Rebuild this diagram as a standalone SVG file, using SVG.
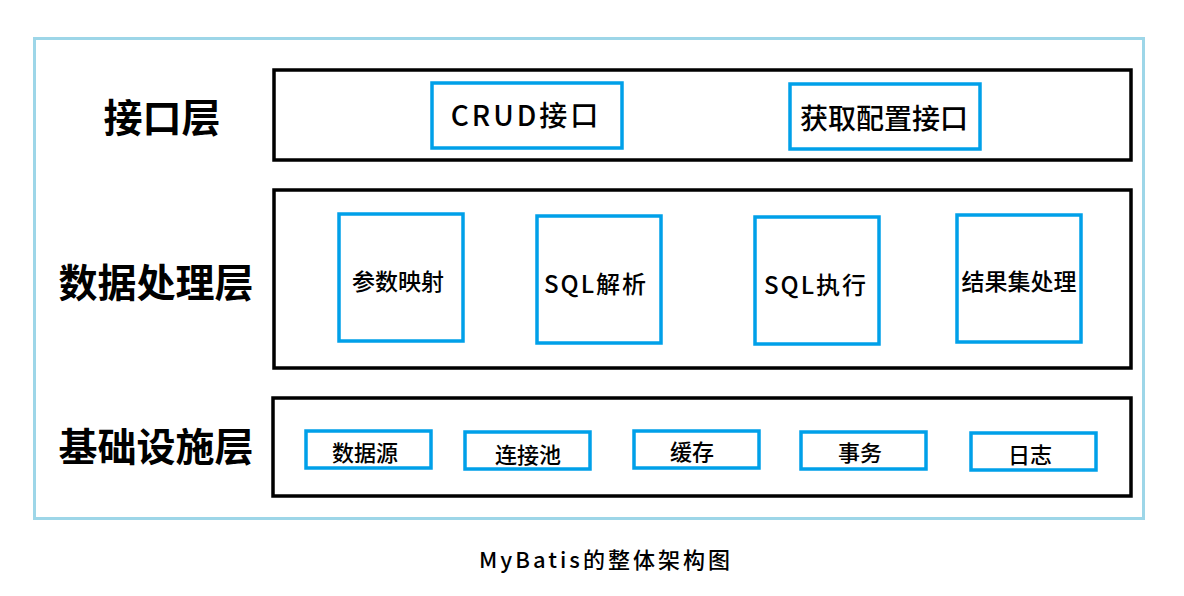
<svg xmlns="http://www.w3.org/2000/svg" width="1184" height="596" viewBox="0 0 1184 596">
<style>
text{font-family:"Noto Sans CJK SC","Liberation Sans",sans-serif;fill:#000;text-anchor:middle;dominant-baseline:central;font-weight:500}
.outer{fill:#fff;stroke:#9dd6e8;stroke-width:3}
.layer{fill:#fff;stroke:#000;stroke-width:3.5}
.node{fill:#fff;stroke:#00a0e9;stroke-width:3.5}
.lbl{font-size:39px;font-weight:bold}
.n28{font-size:28px}
.sql{font-size:24px;letter-spacing:2px}
.n24{font-size:23px}
.n22{font-size:22px}
.cap{font-size:22px;letter-spacing:3px}
</style>
<rect width="1184" height="596" fill="#fff"/>
<rect class="outer" x="34.5" y="38.5" width="1109" height="480"/>
<g id="layer-interface">
<rect class="layer" x="274" y="70" width="857" height="90"/>
<text class="lbl" x="162" y="115">接口层</text>
</g>
<g id="layer-data">
<rect class="layer" x="274" y="190" width="857" height="178"/>
<text class="lbl" x="156" y="280">数据处理层</text>
</g>
<g id="layer-base">
<rect class="layer" x="273" y="398" width="858" height="98"/>
<text class="lbl" x="156" y="444">基础设施层</text>
</g>
<g id="n-crud"><rect class="node" x="432" y="83" width="190" height="65"/><text class="n28" x="526" y="114" style="letter-spacing:3px">CRUD接口</text></g>
<g id="n-config"><rect class="node" x="790" y="84" width="190" height="65"/><text class="n28" x="884" y="117">获取配置接口</text></g>
<g id="n-param"><rect class="node" x="339" y="214" width="124" height="127"/><text class="n24" x="398" y="280">参数映射</text></g>
<g id="n-sqlparse"><rect class="node" x="537" y="216" width="124" height="127"/><text class="sql" x="596" y="282">SQL解析</text></g>
<g id="n-sqlexec"><rect class="node" x="755" y="217" width="124" height="127"/><text class="sql" x="816" y="283">SQL执行</text></g>
<g id="n-result"><rect class="node" x="957" y="215" width="124" height="127"/><text class="n24" x="1019" y="280">结果集处理</text></g>
<g id="n-ds"><rect class="node" x="306" y="431" width="125" height="37"/><text class="n22" x="365" y="451">数据源</text></g>
<g id="n-pool"><rect class="node" x="465" y="432" width="125" height="37"/><text class="n22" x="528" y="453">连接池</text></g>
<g id="n-cache"><rect class="node" x="634" y="431" width="125" height="37"/><text class="n22" x="692" y="450">缓存</text></g>
<g id="n-tx"><rect class="node" x="801" y="432" width="125" height="37"/><text class="n22" x="860" y="451">事务</text></g>
<g id="n-log"><rect class="node" x="971" y="433" width="125" height="37"/><text class="n22" x="1030" y="453">日志</text></g>
<g id="connectors"></g>
<text class="cap" x="606" y="558">MyBatis的整体架构图</text>
</svg>
